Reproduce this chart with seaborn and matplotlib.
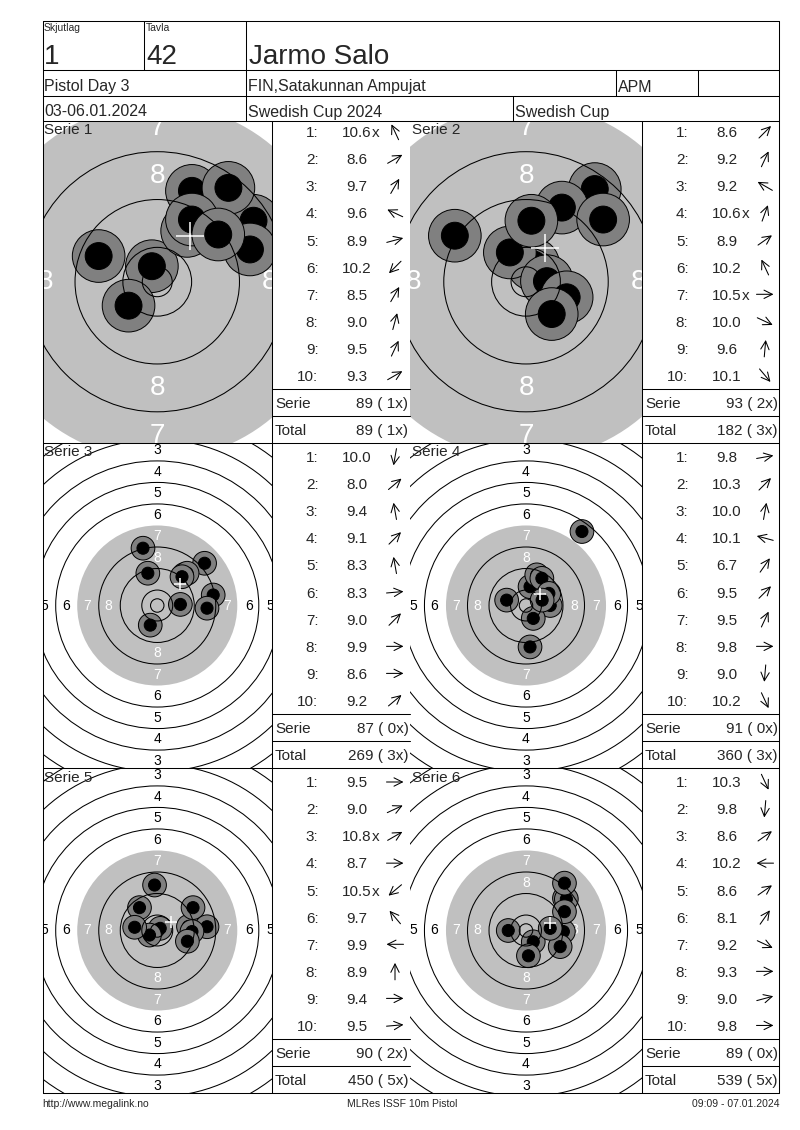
import matplotlib
matplotlib.use('Agg')
import matplotlib.pyplot as plt
from matplotlib.patches import Circle
import seaborn as sns
import pandas as pd
import numpy as np

# header texts
squad = '1'
lane = '42'
shooter = 'Jarmo Salo'
event = 'Pistol Day 3'
club = 'FIN,Satakunnan Ampujat'
klass = 'APM'
dates = '03-06.01.2024'
match = 'Swedish Cup 2024'
cup = 'Swedish Cup'
footer = ['http://www.megalink.no', 'MLRes ISSF 10m Pistol', '09:09 - 07.01.2024']

# shots per serie: score, inner ten flag, hit position (mm from centre), trace direction (deg)
serie1_score = [10.6, 8.6, 9.7, 9.6, 8.9, 10.2, 8.5, 9.0, 9.5, 9.3]
serie1_inner = [1, 0, 0, 0, 0, 0, 0, 0, 0, 0]
serie1_x = [-0.9, 16.1, 5.0, -9.8, 5.8, -4.8, 11.9, 15.5, 5.8, 10.2]
serie1_y = [2.6, 10.2, 8.5, 4.3, 15.2, -4.0, 15.7, 5.4, 10.4, 7.9]
serie1_dir = [115, 30, 60, 155, 15, 225, 60, 75, 65, 30]

serie2_score = [8.6, 9.2, 9.2, 10.6, 8.9, 10.2, 10.5, 10.0, 9.6, 10.1]
serie2_inner = [0, 0, 0, 1, 0, 0, 1, 0, 0, 0]
serie2_x = [11.5, 6.0, -11.9, 1.2, 12.9, -2.7, 3.5, 6.8, 0.9, 4.3]
serie2_y = [15.5, 12.4, 7.7, 2.9, 10.4, 4.9, 0.1, -2.6, 10.2, -5.4]
serie2_dir = [45, 65, 150, 70, 35, 115, 0, -25, 85, -50]

serie3_score = [10.0, 8.0, 9.4, 9.1, 8.3, 8.3, 9.0, 9.9, 8.6, 9.2]
serie3_inner = [0, 0, 0, 0, 0, 0, 0, 0, 0, 0]
serie3_x = [-2.6, 17.6, -3.5, 10.0, -5.3, 20.8, 11.1, 8.6, 18.5, 9.2]
serie3_y = [-7.3, 15.7, 12.0, 11.5, 21.3, 3.9, 12.0, 0.4, -1.0, 10.7]
serie3_dir = [-100, 40, 100, 45, 100, 5, 45, 0, 0, 40]

serie4_score = [9.8, 10.3, 10.0, 10.1, 6.7, 9.5, 9.5, 9.8, 9.0, 10.2]
serie4_inner = [0, 0, 0, 0, 0, 0, 0, 0, 0, 0]
serie4_x = [9.0, 2.7, -7.2, 1.5, 20.8, 4.0, 5.9, 8.5, 1.5, 6.0]
serie4_y = [0.0, -4.8, 2.0, 7.0, 27.5, 11.4, 10.1, 4.5, -15.4, 2.0]
serie4_dir = [10, 45, 80, 165, 55, 45, 65, 0, -95, -65]

serie5_score = [9.5, 9.0, 10.8, 8.7, 10.5, 9.7, 9.9, 8.9, 9.4, 9.5]
serie5_inner = [0, 0, 1, 0, 1, 0, 0, 0, 0, 0]
serie5_x = [11.6, 13.3, 1.1, 18.5, -2.9, -6.6, -8.4, -1.0, 12.9, 11.2]
serie5_y = [1.5, 8.5, 0.8, 1.4, -1.7, 8.5, 1.2, 16.9, -0.4, -4.0]
serie5_dir = [0, 25, 30, 0, 220, 130, 180, 90, 0, 5]

serie6_score = [10.3, 9.8, 8.6, 10.2, 8.6, 8.1, 9.2, 9.3, 9.0, 9.8]
serie6_inner = [0, 0, 0, 0, 0, 0, 0, 0, 0, 0]
serie6_x = [2.7, 0.9, 14.3, -6.6, 15.0, 14.3, 13.9, 12.7, 14.3, 9.0]
serie6_y = [-4.2, -9.4, 12.0, 0.0, 11.7, 17.6, -0.4, -6.0, 7.0, 0.8]
serie6_dir = [-65, -95, 35, 180, 35, 55, -25, 0, 15, 0]

series = [
    (serie1_score, serie1_inner, serie1_x, serie1_y, serie1_dir),
    (serie2_score, serie2_inner, serie2_x, serie2_y, serie2_dir),
    (serie3_score, serie3_inner, serie3_x, serie3_y, serie3_dir),
    (serie4_score, serie4_inner, serie4_x, serie4_y, serie4_dir),
    (serie5_score, serie5_inner, serie5_x, serie5_y, serie5_dir),
    (serie6_score, serie6_inner, serie6_x, serie6_y, serie6_dir),
]

sns.set_theme(style='white')
plt.rcParams['font.family'] = ['Liberation Sans', 'DejaVu Sans']

W, H = 800, 1130
fig = plt.figure(figsize=(8, 11.3), dpi=100)
fig.patch.set_facecolor('white')


def px_axes(x0, y0, x1, y1, **kw):
    return fig.add_axes([x0 / W, 1 - y1 / H, (x1 - x0) / W, (y1 - y0) / H], **kw)


def ring_r(n):
    # 10m air pistol target, ring radius in mm
    return 5.75 + (10 - n) * 8


def draw_target(ax, scale, w_px, h_px, xs, ys):
    pt = scale * 72 / 100  # points per mm
    zoomed = scale > 4
    ax.add_patch(Circle((0, 0), ring_r(7), fc='#c0c0c0', ec='none', zorder=1))
    fs = 20 if zoomed else 10
    for n in range(1, 9):
        d = ring_r(n) - 4
        dh = d + (1.0 if zoomed else 0.3)
        col = 'white' if n >= 7 else 'black'
        for lx, ly in [(0, d), (0, -d), (dh, 0), (-dh, 0)]:
            ax.text(lx, ly, str(n), ha='center', va='center', fontsize=fs,
                    color=col, clip_on=True, zorder=2)
    rows = []
    for x, y in zip(xs, ys):
        rows.append((x, y, 'halo'))
        rows.append((x, y, 'hole'))
    df = pd.DataFrame(rows, columns=['x', 'y', 'layer'])
    sns.scatterplot(data=df, x='x', y='y', hue='layer', size='layer',
                    sizes={'halo': (2 * 4.4 * pt) ** 2, 'hole': (2 * 2.25 * pt) ** 2},
                    palette={'halo': '#808080', 'hole': 'black'},
                    edgecolor='black', linewidth=0.7, legend=False, ax=ax, zorder=3)
    for r in [ring_r(n) for n in (1, 2, 3, 4, 5, 6, 8, 9, 10)] + [2.5]:
        ax.add_patch(Circle((0, 0), r, fill=False, ec='black', lw=0.75, zorder=4))
    sns.scatterplot(x=[np.mean(xs)], y=[np.mean(ys)], marker='+', s=(4.6 * pt) ** 2,
                    color='white', linewidth=1.1, ax=ax, zorder=5)
    hx, hy = w_px / 2 / scale, h_px / 2 / scale
    ax.set_xlim(-hx, hx)
    ax.set_ylim(-hy, hy)
    ax.axis('off')


bg = fig.add_axes([0, 0, 1, 1], zorder=10)
bg.set_xlim(0, W)
bg.set_ylim(H, 0)
bg.axis('off')

LEFT, RIGHT, TOP, BOTTOM = 42.5, 779, 21, 1093
lk = dict(color='black', lw=0.75)

# header frame
for y in (TOP, 70, 95.5, 120.5, 443, 768, BOTTOM):
    bg.plot([LEFT, RIGHT], [y, y], **lk)
for x in (LEFT, RIGHT):
    bg.plot([x, x], [TOP, BOTTOM], **lk)
bg.plot([144, 144], [TOP, 70], **lk)
bg.plot([246, 246], [TOP, 120.5], **lk)
bg.plot([616, 616], [70, 95.5], **lk)
bg.plot([698, 698], [70, 95.5], **lk)
bg.plot([513, 513], [95.5, 120.5], **lk)

bg.text(44, 31, 'Skjutlag', fontsize=7.5, va='baseline')
bg.text(146, 31, 'Tavla', fontsize=7.5, va='baseline')
bg.text(44, 63.5, squad, fontsize=20, va='baseline')
bg.text(146, 63.5, lane, fontsize=20, va='baseline')
bg.text(249, 63.5, shooter, fontsize=20, va='baseline')
bg.text(44, 91.5, event, fontsize=11.5, va='baseline')
bg.text(248, 91.5, club, fontsize=11.5, va='baseline')
bg.text(618, 91.5, klass, fontsize=11.5, va='baseline')
bg.text(44, 116.5, dates, fontsize=11.5, va='baseline')
bg.text(248, 116.5, match, fontsize=11.5, va='baseline')
bg.text(515, 116.5, cup, fontsize=11.5, va='baseline')

bg.text(42, 1107, footer[0], fontsize=7.5, va='baseline', ha='left')
bg.text(402, 1107, footer[1], fontsize=7.5, va='baseline', ha='center')
bg.text(779, 1107, footer[2], fontsize=7.5, va='baseline', ha='right')

block_tops = [120.5, 443, 768]
block_bots = [443, 768, 1093]
target_cols = [(42.5, 272), (410, 642)]
table_right = [410, 779]
zoom = [5.98, 5.98, 2.69, 2.69, 2.69, 2.69]

run_total, run_x = 0, 0
for k, (score, inner, xs, ys, dirs) in enumerate(series):
    row, col = divmod(k, 2)
    y0, y1 = block_tops[row], block_bots[row]
    x0, x1 = target_cols[col]
    T, R = x1, table_right[col]
    bg.plot([T, T], [y0, y1], **lk)
    bg.plot([T, R], [y1 - 54, y1 - 54], **lk)
    bg.plot([T, R], [y1 - 27, y1 - 27], **lk)

    ax = px_axes(x0, y0, x1, y1)
    draw_target(ax, zoom[k], x1 - x0, y1 - y0, xs, ys)
    bg.text(x0 + 1.5, y0 + 13.5, f'Serie {k + 1}', fontsize=11, va='baseline')

    for i in range(10):
        yc = y1 - 311 + 27.05 * i
        yb = yc + 5.3
        bg.text(T + 46.5, yb, f'{i + 1}:', fontsize=11, ha='right', va='baseline')
        bg.text(T + 85, yb, f'{score[i]:.1f}', fontsize=11, ha='center', va='baseline')
        if inner[i]:
            bg.text(T + 100, yb, 'x', fontsize=11, ha='left', va='baseline')
        a = np.deg2rad(dirs[i])
        dx, dy = 8.5 * np.cos(a), 8.5 * np.sin(a)
        ax_c = T + 123
        bg.annotate('', xy=(ax_c + dx, yc - dy), xytext=(ax_c - dx, yc + dy),
                    arrowprops=dict(arrowstyle='->,head_length=0.5,head_width=0.25',
                                    lw=0.75, color='black', shrinkA=0, shrinkB=0))

    s_sum = int(sum(np.floor(np.array(score) + 1e-9)))
    s_x = int(sum(inner))
    run_total += s_sum
    run_x += s_x
    bg.text(T + 3, y1 - 40.5 + 5.3, 'Serie', fontsize=11, va='baseline')
    bg.text(R - 1.5, y1 - 40.5 + 5.3, f'{s_sum} ( {s_x}x)', fontsize=11, ha='right', va='baseline')
    bg.text(T + 3, y1 - 13.5 + 5.3, 'Total', fontsize=11, va='baseline')
    bg.text(R - 1.5, y1 - 13.5 + 5.3, f'{run_total} ( {run_x}x)', fontsize=11, ha='right', va='baseline')

fig.savefig('out.png', dpi=100, facecolor='white')
